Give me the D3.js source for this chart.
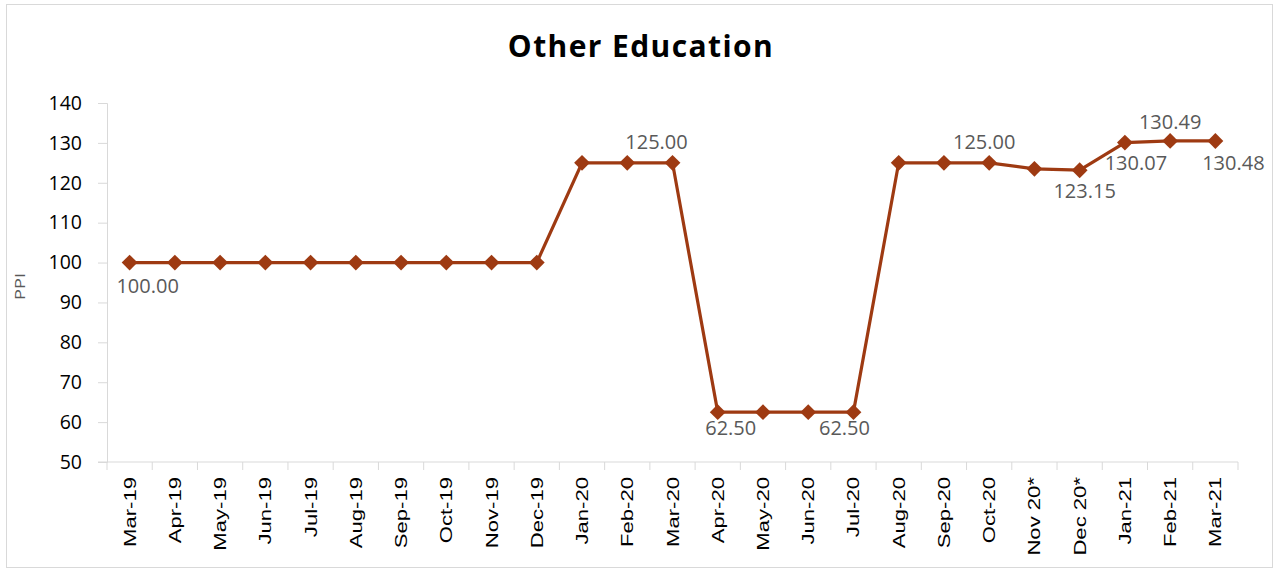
<!DOCTYPE html>
<html>
<head>
<meta charset="utf-8">
<script src="https://cdn.jsdelivr.net/npm/d3@7"></script>
<style>
  body { margin: 0; background: #fff; }
  svg { display: block; }
</style>
</head>
<body>
<svg></svg>
<script>
const months = ["Mar-19", "Apr-19", "May-19", "Jun-19", "Jul-19", "Aug-19", "Sep-19", "Oct-19",
  "Nov-19", "Dec-19", "Jan-20", "Feb-20", "Mar-20", "Apr-20", "May-20", "Jun-20", "Jul-20",
  "Aug-20", "Sep-20", "Oct-20", "Nov 20*", "Dec 20*", "Jan-21", "Feb-21", "Mar-21"];
const ppi = [100, 100, 100, 100, 100, 100, 100, 100, 100, 100, 125, 125, 125, 62.5, 62.5, 62.5, 62.5,
  125, 125, 125, 123.5, 123.15, 130.07, 130.49, 130.48];
const yTicks = [50, 60, 70, 80, 90, 100, 110, 120, 130, 140];
const labelled = [0, 12, 13, 16, 19, 21, 22, 23, 24];

// where each data label sits relative to its point
const labelOffset = {
  0: [18, 30], 12: [-16, -14], 13: [13, 23], 16: [-9, 23], 19: [-5, -14],
  21: [5, 28], 22: [11, 27], 23: [0, -12], 24: [18, 29]
};

const width = 1278, height = 569;
const margin = { top: 103, right: 40, bottom: 107, left: 107 };
const innerWidth = width - margin.left - margin.right;
const innerHeight = height - margin.top - margin.bottom;
const lineColor = "#9e3a12";

const svg = d3.select("svg").attr("width", width).attr("height", height);

svg.append("rect")
  .attr("x", 6.5).attr("y", 4.5)
  .attr("width", 1266).attr("height", 563)
  .attr("fill", "none").attr("stroke", "#d9d9d9");

svg.append("text")
  .attr("x", 641).attr("y", 57)
  .attr("text-anchor", "middle")
  .style("font-family", "'Open Sans', sans-serif")
  .style("font-weight", "bold")
  .style("font-size", "30px")
  .style("letter-spacing", "1.4px")
  .text("Other Education");

const g = svg.append("g").attr("transform", `translate(${margin.left},${margin.top})`);

const x = d3.scaleBand().domain(months).range([0, innerWidth]);
const y = d3.scaleLinear().domain([50, 140]).range([innerHeight, 0]);

// y axis
const yAxis = g.append("g")
  .call(d3.axisLeft(y).tickValues(yTicks).tickSize(9).tickPadding(16));
yAxis.select(".domain").attr("stroke", "#d9d9d9");
yAxis.selectAll(".tick line").attr("stroke", "#d9d9d9");
yAxis.selectAll("text")
  .style("font-family", "'Open Sans', sans-serif")
  .style("font-size", "19.5px")
  .attr("fill", "#000");

// x axis with ticks on band edges
const xAxis = g.append("g").attr("transform", `translate(0,${innerHeight})`);
xAxis.append("line")
  .attr("x1", -9).attr("x2", innerWidth)
  .attr("stroke", "#d9d9d9");
xAxis.selectAll(".edge")
  .data(months.map((m, i) => i).concat([months.length]))
  .enter().append("line")
  .attr("x1", (i) => x.step() * i).attr("x2", (i) => x.step() * i)
  .attr("y1", 0).attr("y2", 8)
  .attr("stroke", "#d9d9d9");
xAxis.selectAll(".lbl")
  .data(months)
  .enter().append("text")
  .attr("transform", (d) => `translate(${x(d) + x.bandwidth() / 2 + 6},15) rotate(-90) scale(1.3,1)`)
  .attr("text-anchor", "end")
  .style("font-family", "'Liberation Sans', Arial, sans-serif")
  .style("font-size", "17px")
  .text((d) => d);

// y axis title
g.append("text")
  .attr("transform", `translate(-82,${y(94)}) rotate(-90) scale(1.3,1)`)
  .attr("text-anchor", "middle")
  .style("font-family", "'Open Sans', sans-serif")
  .style("font-size", "14px")
  .attr("fill", "#595959")
  .text("PPI");

const cx = (i) => x(months[i]) + x.bandwidth() / 2;

const line = d3.line().x((d, i) => cx(i)).y((d) => y(d));
g.append("path")
  .datum(ppi)
  .attr("d", line)
  .attr("fill", "none")
  .attr("stroke", lineColor)
  .attr("stroke-width", 3.2);

g.selectAll(".pt")
  .data(ppi)
  .enter().append("path")
  .attr("d", d3.symbol(d3.symbolDiamond2, 160))
  .attr("transform", (d, i) => `translate(${cx(i)},${y(d)})`)
  .attr("fill", lineColor);

g.selectAll(".dl")
  .data(labelled)
  .enter().append("text")
  .attr("x", (i) => cx(i) + labelOffset[i][0])
  .attr("y", (i) => y(ppi[i]) + labelOffset[i][1])
  .attr("text-anchor", "middle")
  .style("font-family", "'Open Sans', sans-serif")
  .style("font-size", "20px")
  .attr("fill", "#595959")
  .text((i) => ppi[i].toFixed(2));
</script>
</body>
</html>
